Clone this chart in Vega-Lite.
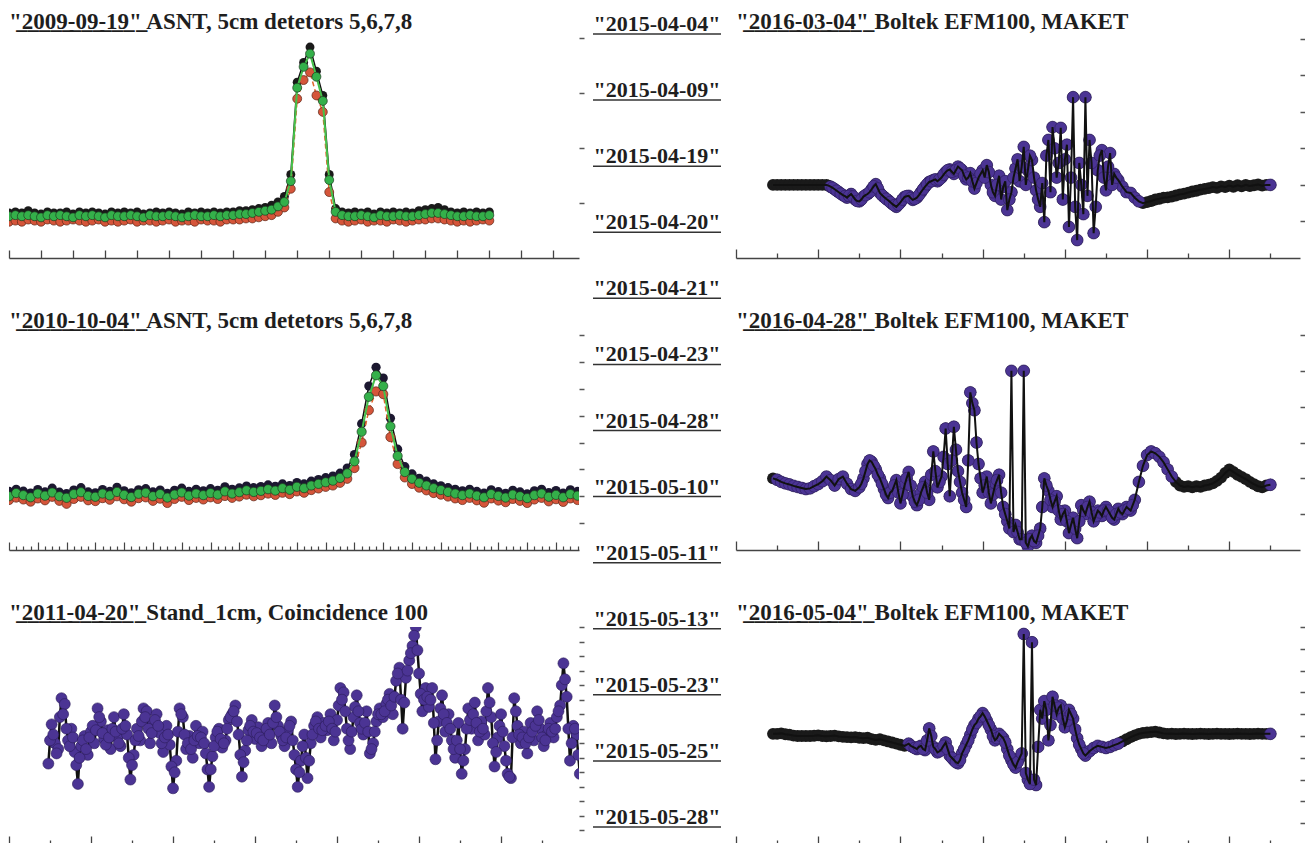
{
"$schema":"https://vega.github.io/schema/vega-lite/v6.json",
"background":"white",
"padding":{"left":8,"top":11,"right":0,"bottom":0},
"spacing":5,
"config":{"view":{"stroke":null},
"title":{"font":"Liberation Serif","fontSize":23,"fontWeight":"bold","color":"#1e1e1e","anchor":"start","offset":1,"frame":"group"},
"axis":{"labels":false,"title":null,"grid":false}},
"datasets":{
"L1":[
{"x":0,"k":4.1,"r":3.3,"g":3.8},{"x":0.2,"k":4.2,"r":3.4,"g":3.9},{"x":0.4,"k":4.1,"r":3.3,"g":3.8},{"x":0.6,"k":4.3,"r":3.5,"g":3.9},{"x":0.8,"k":4.1,"r":3.4,"g":3.8},{"x":1,"k":4.0,"r":3.3,"g":3.7},{"x":1.2,"k":4.2,"r":3.5,"g":3.9},{"x":1.4,"k":4.1,"r":3.4,"g":3.8},{"x":1.6,"k":4.1,"r":3.3,"g":3.9},{"x":1.8,"k":4.2,"r":3.4,"g":3.8},
{"x":2,"k":4.0,"r":3.5,"g":3.7},{"x":2.2,"k":4.2,"r":3.4,"g":3.9},{"x":2.4,"k":4.1,"r":3.3,"g":3.8},{"x":2.6,"k":4.2,"r":3.4,"g":3.9},{"x":2.8,"k":4.1,"r":3.5,"g":3.8},{"x":3,"k":4.0,"r":3.3,"g":3.7},{"x":3.2,"k":4.2,"r":3.4,"g":3.9},{"x":3.4,"k":4.1,"r":3.3,"g":3.8},{"x":3.6,"k":4.2,"r":3.4,"g":3.8},{"x":3.8,"k":4.1,"r":3.5,"g":3.9},
{"x":4,"k":4.2,"r":3.3,"g":3.8},{"x":4.2,"k":4.0,"r":3.4,"g":3.7},{"x":4.4,"k":4.1,"r":3.4,"g":3.9},{"x":4.6,"k":4.2,"r":3.3,"g":3.8},{"x":4.8,"k":4.1,"r":3.4,"g":3.8},{"x":5,"k":4.2,"r":3.5,"g":3.9},{"x":5.2,"k":4.1,"r":3.3,"g":3.8},{"x":5.4,"k":4.0,"r":3.4,"g":3.7},{"x":5.6,"k":4.2,"r":3.4,"g":3.8},{"x":5.8,"k":4.1,"r":3.3,"g":3.9},
{"x":6,"k":4.2,"r":3.5,"g":3.8},{"x":6.2,"k":4.1,"r":3.4,"g":3.8},{"x":6.4,"k":4.2,"r":3.4,"g":3.9},{"x":6.6,"k":4.1,"r":3.3,"g":3.8},{"x":6.8,"k":4.2,"r":3.5,"g":3.9},{"x":7,"k":4.2,"r":3.5,"g":3.9},{"x":7.2,"k":4.3,"r":3.5,"g":4.0},{"x":7.4,"k":4.3,"r":3.6,"g":4.0},{"x":7.6,"k":4.4,"r":3.6,"g":4.1},{"x":7.8,"k":4.5,"r":3.7,"g":4.2},
{"x":8,"k":4.6,"r":3.8,"g":4.3},{"x":8.2,"k":4.8,"r":3.9,"g":4.4},{"x":8.4,"k":5.1,"r":4.2,"g":4.7},{"x":8.6,"k":5.6,"r":4.6,"g":5.1},{"x":8.8,"k":7.6,"r":6.3,"g":7.0},{"x":9,"k":16.0,"r":14.5,"g":15.5},{"x":9.2,"k":17.8,"r":16.2,"g":17.4},{"x":9.4,"k":19.2,"r":16.9,"g":18.6},{"x":9.6,"k":17.0,"r":14.8,"g":16.5},{"x":9.8,"k":14.8,"r":13.3,"g":14.3},
{"x":10,"k":7.6,"r":6.0,"g":7.1},{"x":10.2,"k":4.5,"r":3.6,"g":4.2},{"x":10.4,"k":4.2,"r":3.4,"g":3.9},{"x":10.6,"k":4.1,"r":3.3,"g":3.8},{"x":10.8,"k":4.2,"r":3.4,"g":3.8},{"x":11,"k":4.1,"r":3.5,"g":3.9},{"x":11.2,"k":4.2,"r":3.3,"g":3.8},{"x":11.4,"k":4.0,"r":3.4,"g":3.7},{"x":11.6,"k":4.2,"r":3.4,"g":3.9},{"x":11.8,"k":4.1,"r":3.3,"g":3.8},
{"x":12,"k":4.2,"r":3.5,"g":3.8},{"x":12.2,"k":4.1,"r":3.4,"g":3.9},{"x":12.4,"k":4.2,"r":3.3,"g":3.8},{"x":12.6,"k":4.1,"r":3.4,"g":3.8},{"x":12.8,"k":4.3,"r":3.5,"g":3.9},{"x":13,"k":4.4,"r":3.5,"g":4.0},{"x":13.2,"k":4.5,"r":3.6,"g":4.1},{"x":13.4,"k":4.6,"r":3.6,"g":4.1},{"x":13.6,"k":4.4,"r":3.5,"g":4.0},{"x":13.8,"k":4.2,"r":3.4,"g":3.9},
{"x":14,"k":4.1,"r":3.3,"g":3.8},{"x":14.2,"k":4.2,"r":3.4,"g":3.8},{"x":14.4,"k":4.1,"r":3.3,"g":3.9},{"x":14.6,"k":4.2,"r":3.4,"g":3.8},{"x":14.8,"k":4.1,"r":3.5,"g":3.8},{"x":15,"k":4.2,"r":3.4,"g":3.9}
],
"L2":[
{"x":0,"k":21.8,"r":18.6,"g":20.0},{"x":0.25,"k":22.6,"r":19.5,"g":21.2},{"x":0.5,"k":21.9,"r":18.8,"g":20.4},{"x":0.75,"k":21.2,"r":18.0,"g":19.6},{"x":1,"k":22.5,"r":19.2,"g":21.0},{"x":1.25,"k":21.6,"r":18.5,"g":20.2},{"x":1.5,"k":23.0,"r":19.8,"g":21.4},{"x":1.75,"k":21.5,"r":18.3,"g":20.0},
{"x":2,"k":21.0,"r":17.2,"g":19.4},{"x":2.25,"k":22.3,"r":19.0,"g":20.8},{"x":2.5,"k":23.2,"r":19.8,"g":21.5},{"x":2.75,"k":21.6,"r":18.5,"g":20.1},{"x":3,"k":21.3,"r":18.2,"g":19.8},{"x":3.25,"k":22.5,"r":19.3,"g":21.0},{"x":3.5,"k":21.8,"r":18.7,"g":20.3},{"x":3.75,"k":23.3,"r":20.0,"g":21.6},
{"x":4,"k":22.0,"r":18.9,"g":20.5},{"x":4.25,"k":21.3,"r":18.0,"g":19.7},{"x":4.5,"k":22.4,"r":19.3,"g":20.9},{"x":4.75,"k":22.8,"r":19.6,"g":21.3},{"x":5,"k":21.6,"r":18.3,"g":20.0},{"x":5.25,"k":22.3,"r":19.1,"g":20.8},{"x":5.5,"k":21.1,"r":17.5,"g":19.5},{"x":5.75,"k":22.2,"r":19.0,"g":20.6},
{"x":6,"k":23.0,"r":19.8,"g":21.4},{"x":6.25,"k":21.8,"r":18.6,"g":20.2},{"x":6.5,"k":22.6,"r":19.4,"g":21.0},{"x":6.75,"k":22.0,"r":18.8,"g":20.4},{"x":7,"k":22.8,"r":19.6,"g":21.2},{"x":7.25,"k":22.2,"r":19.0,"g":20.6},{"x":7.5,"k":23.5,"r":20.1,"g":21.8},{"x":7.75,"k":22.6,"r":19.4,"g":21.0},
{"x":8,"k":23.1,"r":19.9,"g":21.5},{"x":8.25,"k":23.8,"r":20.6,"g":22.2},{"x":8.5,"k":23.2,"r":20.0,"g":21.6},{"x":8.75,"k":23.6,"r":20.4,"g":22.0},{"x":9,"k":24.2,"r":21.0,"g":22.6},{"x":9.25,"k":23.7,"r":20.5,"g":22.1},{"x":9.5,"k":24.6,"r":21.3,"g":23.0},{"x":9.75,"k":24.0,"r":20.8,"g":22.4},
{"x":10,"k":25.1,"r":21.8,"g":23.5},{"x":10.25,"k":24.6,"r":21.3,"g":23.0},{"x":10.5,"k":25.6,"r":22.3,"g":24.0},{"x":10.75,"k":26.2,"r":22.9,"g":24.6},{"x":11,"k":26.9,"r":23.5,"g":25.2},{"x":11.25,"k":27.5,"r":24.0,"g":25.8},{"x":11.5,"k":28.6,"r":25.0,"g":26.8},{"x":11.75,"k":30.5,"r":26.5,"g":28.5},
{"x":12,"k":35.5,"r":30.5,"g":33.0},{"x":12.25,"k":47.0,"r":40.0,"g":44.0},{"x":12.5,"k":61.0,"r":52.0,"g":57.0},{"x":12.75,"k":68.0,"r":59.0,"g":65.0},{"x":13,"k":64.0,"r":58.0,"g":61.0},{"x":13.25,"k":49.0,"r":42.0,"g":46.0},{"x":13.5,"k":37.5,"r":32.0,"g":35.0},{"x":13.75,"k":31.0,"r":27.0,"g":29.0},
{"x":14,"k":28.3,"r":24.6,"g":26.5},{"x":14.25,"k":26.7,"r":23.2,"g":25.0},{"x":14.5,"k":25.6,"r":22.2,"g":24.0},{"x":14.75,"k":24.6,"r":21.2,"g":23.0},{"x":15,"k":23.9,"r":20.6,"g":22.3},{"x":15.25,"k":23.2,"r":19.9,"g":21.6},{"x":15.5,"k":22.6,"r":19.2,"g":21.0},{"x":15.75,"k":22.0,"r":18.6,"g":20.4},
{"x":16,"k":22.6,"r":19.4,"g":21.0},{"x":16.25,"k":21.8,"r":18.5,"g":20.2},{"x":16.5,"k":21.2,"r":17.6,"g":19.6},{"x":16.75,"k":22.4,"r":19.2,"g":20.8},{"x":17,"k":21.7,"r":18.4,"g":20.1},{"x":17.25,"k":21.1,"r":17.8,"g":19.5},{"x":17.5,"k":22.2,"r":19.0,"g":20.6},{"x":17.75,"k":21.6,"r":18.3,"g":20.0},
{"x":18,"k":20.9,"r":17.5,"g":19.3},{"x":18.25,"k":22.0,"r":18.8,"g":20.4},{"x":18.5,"k":22.6,"r":19.4,"g":21.0},{"x":18.75,"k":21.4,"r":18.1,"g":19.8},{"x":19,"k":22.1,"r":18.9,"g":20.5},{"x":19.25,"k":21.2,"r":17.9,"g":19.6},{"x":19.5,"k":22.4,"r":19.2,"g":20.8},{"x":19.75,"k":21.8,"r":18.6,"g":20.2}
],
"L3":[
{"x":0.96,"y":56},{"x":1.04,"y":83},{"x":1.12,"y":70},{"x":1.2,"y":66},{"x":1.28,"y":101},{"x":1.36,"y":97},{"x":1.44,"y":72},{"x":1.52,"y":80},{"x":1.6,"y":64},{"x":1.68,"y":42},
{"x":1.76,"y":68},{"x":1.84,"y":75},{"x":1.92,"y":62},{"x":2,"y":78},{"x":2.08,"y":70},{"x":2.16,"y":94},{"x":2.24,"y":85},{"x":2.32,"y":73},{"x":2.4,"y":79},{"x":2.48,"y":66},
{"x":2.56,"y":88},{"x":2.64,"y":74},{"x":2.72,"y":68},{"x":2.8,"y":90},{"x":2.88,"y":76},{"x":2.96,"y":45},{"x":3.04,"y":62},{"x":3.12,"y":80},{"x":3.2,"y":72},{"x":3.28,"y":94},
{"x":3.36,"y":92},{"x":3.44,"y":70},{"x":3.52,"y":84},{"x":3.6,"y":90},{"x":3.68,"y":77},{"x":3.76,"y":64},{"x":3.84,"y":82},{"x":3.92,"y":69},{"x":4,"y":39},{"x":4.08,"y":58},
{"x":4.16,"y":94},{"x":4.24,"y":88},{"x":4.32,"y":66},{"x":4.4,"y":75},{"x":4.48,"y":60},{"x":4.56,"y":82},{"x":4.64,"y":70},{"x":4.72,"y":78},{"x":4.8,"y":63},{"x":4.88,"y":40},
{"x":4.96,"y":61},{"x":5.04,"y":74},{"x":5.12,"y":80},{"x":5.2,"y":67},{"x":5.28,"y":72},{"x":5.36,"y":86},{"x":5.44,"y":90},{"x":5.52,"y":96},{"x":5.6,"y":76},{"x":5.68,"y":47},
{"x":5.76,"y":65},{"x":5.84,"y":79},{"x":5.92,"y":86},{"x":6,"y":73},{"x":6.08,"y":81},{"x":6.16,"y":68},{"x":6.24,"y":77},{"x":6.32,"y":84},{"x":6.4,"y":70},{"x":6.48,"y":96},
{"x":6.56,"y":82},{"x":6.64,"y":75},{"x":6.72,"y":68},{"x":6.8,"y":79},{"x":6.88,"y":85},{"x":6.96,"y":62},{"x":7.04,"y":40},{"x":7.12,"y":58},{"x":7.2,"y":76},{"x":7.28,"y":46},
{"x":7.36,"y":70},{"x":7.44,"y":82},{"x":7.52,"y":88},{"x":7.6,"y":74},{"x":7.68,"y":84},{"x":7.76,"y":79},{"x":7.84,"y":90},{"x":7.92,"y":72},{"x":8,"y":86},{"x":8.08,"y":108},
{"x":8.16,"y":105},{"x":8.24,"y":80},{"x":8.32,"y":66},{"x":8.4,"y":88},{"x":8.48,"y":103},{"x":8.56,"y":84},{"x":8.64,"y":76},{"x":8.72,"y":92},{"x":8.8,"y":63},{"x":8.88,"y":70},
{"x":8.96,"y":85},{"x":9.04,"y":94},{"x":9.12,"y":88},{"x":9.2,"y":97},{"x":9.28,"y":104},{"x":9.36,"y":90},{"x":9.44,"y":113},{"x":9.52,"y":122},{"x":9.6,"y":80},{"x":9.68,"y":115},
{"x":9.76,"y":127},{"x":9.84,"y":137},{"x":9.92,"y":150},{"x":10,"y":118},{"x":10.08,"y":92},{"x":10.16,"y":108},{"x":10.24,"y":95},{"x":10.32,"y":108},{"x":10.4,"y":59},{"x":10.48,"y":85},
{"x":10.56,"y":103},{"x":10.64,"y":78},{"x":10.72,"y":90},{"x":10.8,"y":72},{"x":10.88,"y":60},{"x":10.96,"y":84},{"x":11.04,"y":49},{"x":11.12,"y":66},{"x":11.2,"y":94},{"x":11.28,"y":80},
{"x":11.36,"y":98},{"x":11.44,"y":72},{"x":11.52,"y":85},{"x":11.6,"y":76},{"x":11.68,"y":108},{"x":11.76,"y":88},{"x":11.84,"y":54},{"x":11.92,"y":74},{"x":12,"y":90},{"x":12.08,"y":68},
{"x":12.16,"y":49},{"x":12.24,"y":46},{"x":12.32,"y":101},{"x":12.4,"y":82},{"x":12.48,"y":70},{"x":12.56,"y":78},{"x":12.64,"y":63},{"x":12.72,"y":84},{"x":12.8,"y":72},{"x":12.88,"y":92},
{"x":12.96,"y":80},{"x":13.04,"y":68},{"x":13.12,"y":76},{"x":13.2,"y":84},{"x":13.28,"y":74},{"x":13.36,"y":88},{"x":13.44,"y":96},{"x":13.52,"y":125},{"x":13.6,"y":102},{"x":13.68,"y":58},
{"x":13.76,"y":82},{"x":13.84,"y":76},{"x":13.92,"y":49},
{"x":1.0,"y":72},{"x":1.08,"y":76},{"x":1.16,"y":63},{"x":1.24,"y":88},{"x":1.32,"y":90},{"x":1.4,"y":80},{"x":1.48,"y":68},{"x":1.56,"y":74},{"x":1.64,"y":55},{"x":1.72,"y":60},
{"x":1.8,"y":72},{"x":1.88,"y":66},{"x":1.96,"y":74},{"x":2.04,"y":82},{"x":2.12,"y":79},{"x":2.2,"y":88},{"x":2.28,"y":77},{"x":2.36,"y":69},{"x":2.44,"y":74},{"x":2.52,"y":80},
{"x":2.6,"y":78},{"x":2.68,"y":70},{"x":2.76,"y":80},{"x":2.84,"y":82},{"x":2.92,"y":60},{"x":3.0,"y":55},{"x":3.08,"y":72},{"x":3.16,"y":75},{"x":3.24,"y":85},{"x":3.32,"y":88},
{"x":3.4,"y":80},{"x":3.48,"y":77},{"x":3.56,"y":86},{"x":3.64,"y":82},{"x":3.72,"y":70},{"x":3.8,"y":74},{"x":3.88,"y":76},{"x":3.96,"y":54},{"x":4.04,"y":50},{"x":4.12,"y":78},
{"x":4.2,"y":90},{"x":4.28,"y":76},{"x":4.36,"y":70},{"x":4.44,"y":66},{"x":4.52,"y":72},{"x":4.6,"y":75},{"x":4.68,"y":74},{"x":4.76,"y":70},{"x":4.84,"y":52},{"x":4.92,"y":52},
{"x":5.0,"y":68},{"x":5.08,"y":78},{"x":5.16,"y":73},{"x":5.24,"y":70},{"x":5.32,"y":80},{"x":5.4,"y":88},{"x":5.48,"y":92},{"x":5.56,"y":85},{"x":5.64,"y":62},{"x":5.72,"y":57},
{"x":5.8,"y":72},{"x":5.88,"y":82},{"x":5.96,"y":78},{"x":6.04,"y":77},{"x":6.12,"y":74},{"x":6.2,"y":72},{"x":6.28,"y":80},{"x":6.36,"y":76},{"x":6.44,"y":84},{"x":6.52,"y":88},
{"x":6.6,"y":78},{"x":6.68,"y":72},{"x":6.76,"y":74},{"x":6.84,"y":82},{"x":6.92,"y":72},{"x":7.0,"y":52},{"x":7.08,"y":50},{"x":7.16,"y":68},{"x":7.24,"y":60},{"x":7.32,"y":58},
{"x":7.4,"y":76},{"x":7.48,"y":85},{"x":7.56,"y":80},{"x":7.64,"y":79},{"x":7.72,"y":82},{"x":7.8,"y":85},{"x":7.88,"y":80},{"x":7.96,"y":78},{"x":8.04,"y":96},{"x":8.12,"y":100},
{"x":8.2,"y":92},{"x":8.28,"y":72},{"x":8.36,"y":78},{"x":8.44,"y":95},{"x":8.52,"y":92},{"x":8.6,"y":80},{"x":8.68,"y":84},{"x":8.76,"y":78},{"x":8.84,"y":66},{"x":8.92,"y":78},
{"x":9.0,"y":90},{"x":9.08,"y":90},{"x":9.16,"y":92},{"x":9.24,"y":100},{"x":9.32,"y":96},{"x":9.4,"y":102},{"x":9.48,"y":118},{"x":9.56,"y":100},{"x":9.64,"y":98},{"x":9.72,"y":120},
{"x":9.8,"y":132},{"x":9.88,"y":144},{"x":9.96,"y":134},{"x":10.04,"y":104},{"x":10.12,"y":100},{"x":10.2,"y":102},{"x":10.28,"y":100},{"x":10.36,"y":84},{"x":10.44,"y":72},{"x":10.52,"y":94},
{"x":10.6,"y":90},{"x":10.68,"y":84},{"x":10.76,"y":80},{"x":10.84,"y":66},{"x":10.92,"y":72},{"x":11.0,"y":66},{"x":11.08,"y":58},{"x":11.16,"y":80},{"x":11.24,"y":86},{"x":11.32,"y":90},
{"x":11.4,"y":84},{"x":11.48,"y":78},{"x":11.56,"y":80},{"x":11.64,"y":92},{"x":11.72,"y":98},{"x":11.8,"y":70},{"x":11.88,"y":64},{"x":11.96,"y":82},{"x":12.04,"y":78},{"x":12.12,"y":58},
{"x":12.2,"y":47},{"x":12.28,"y":74},{"x":12.36,"y":92},{"x":12.44,"y":76},{"x":12.52,"y":74},{"x":12.6,"y":70},{"x":12.68,"y":74},{"x":12.76,"y":78},{"x":12.84,"y":82},{"x":12.92,"y":86},
{"x":13.0,"y":74},{"x":13.08,"y":72},{"x":13.16,"y":80},{"x":13.24,"y":78},{"x":13.32,"y":80},{"x":13.4,"y":92},{"x":13.48,"y":110},{"x":13.56,"y":114},{"x":13.64,"y":80},{"x":13.72,"y":70},
{"x":13.8,"y":80},{"x":13.88,"y":62}
],
"R1":[
{"x":0.9,"y":20},{"x":1,"y":20},{"x":1.1,"y":20},{"x":1.2,"y":20},{"x":1.3,"y":20},{"x":1.4,"y":20},{"x":1.5,"y":20},{"x":1.6,"y":20},{"x":1.7,"y":20},{"x":1.8,"y":20},
{"x":1.9,"y":20},{"x":2,"y":20},{"x":2.1,"y":20},{"x":2.2,"y":20},{"x":2.3,"y":19.5},{"x":2.4,"y":18.8},{"x":2.5,"y":18},{"x":2.6,"y":17.2},{"x":2.7,"y":16.5},{"x":2.8,"y":17.5},
{"x":2.9,"y":16},{"x":3,"y":15.5},{"x":3.1,"y":16.8},{"x":3.2,"y":17.5},{"x":3.3,"y":18.8},{"x":3.4,"y":20.2},{"x":3.5,"y":17.8},{"x":3.6,"y":16.7},{"x":3.7,"y":15.8},{"x":3.8,"y":14.8},
{"x":3.9,"y":14},{"x":4,"y":15.2},{"x":4.1,"y":16.7},{"x":4.2,"y":17},{"x":4.3,"y":15.9},{"x":4.4,"y":16.5},{"x":4.5,"y":18},{"x":4.6,"y":19.5},{"x":4.7,"y":20.8},{"x":4.8,"y":21.3},
{"x":4.9,"y":21},{"x":5,"y":22},{"x":5.1,"y":23.5},{"x":5.2,"y":24.2},{"x":5.3,"y":23},{"x":5.4,"y":25},{"x":5.5,"y":24},{"x":5.6,"y":21.5},{"x":5.7,"y":23.2},{"x":5.8,"y":19},
{"x":5.9,"y":22},{"x":6,"y":24},{"x":6.1,"y":25.4},{"x":6.2,"y":20},{"x":6.3,"y":17},{"x":6.4,"y":22.5},{"x":6.5,"y":19.4},{"x":6.6,"y":13.1},{"x":6.7,"y":18},{"x":6.8,"y":24.5},
{"x":6.9,"y":21},{"x":7,"y":30.4},{"x":7.1,"y":24},{"x":7.2,"y":26.8},{"x":7.3,"y":18.5},{"x":7.4,"y":14},{"x":7.5,"y":9.8},{"x":7.6,"y":32.3},{"x":7.7,"y":35.8},{"x":7.8,"y":22},
{"x":7.9,"y":35.6},{"x":8,"y":27},{"x":8.1,"y":8.5},{"x":8.2,"y":44},{"x":8.3,"y":4.9},{"x":8.4,"y":20},{"x":8.5,"y":44},{"x":8.6,"y":32.3},{"x":8.7,"y":6.8},{"x":8.8,"y":24},
{"x":8.9,"y":29.5},{"x":9,"y":18.5},{"x":9.1,"y":28.7},{"x":9.2,"y":23},{"x":9.3,"y":21.3},{"x":9.4,"y":19.5},{"x":9.5,"y":18},{"x":9.6,"y":17.8},{"x":9.7,"y":16.5},{"x":9.8,"y":15.5},
{"x":9.9,"y":15},{"x":10,"y":15.3},{"x":10.1,"y":15.6},{"x":10.2,"y":16},{"x":10.3,"y":16.2},{"x":10.4,"y":16.5},{"x":10.5,"y":16.6},{"x":10.6,"y":16.8},{"x":10.7,"y":17.1},{"x":10.8,"y":17.4},
{"x":10.9,"y":17.6},{"x":11,"y":17.9},{"x":11.1,"y":18.2},{"x":11.2,"y":18.4},{"x":11.3,"y":18.7},{"x":11.4,"y":18.9},{"x":11.5,"y":19.1},{"x":11.6,"y":19.4},{"x":11.7,"y":19.2},{"x":11.8,"y":19.6},
{"x":11.9,"y":19.4},{"x":12,"y":19.8},{"x":12.1,"y":19.5},{"x":12.2,"y":19.9},{"x":12.3,"y":19.6},{"x":12.4,"y":20},{"x":12.5,"y":19.7},{"x":12.6,"y":19.9},{"x":12.7,"y":20.1},{"x":12.8,"y":19.8},
{"x":12.9,"y":20},{"x":13,"y":20},
{"x":2.25,"y":19.8},{"x":2.35,"y":19.2},{"x":2.45,"y":18.4},{"x":2.55,"y":17.6},{"x":2.65,"y":16.9},{"x":2.75,"y":17},{"x":2.85,"y":16.8},{"x":2.95,"y":15.6},{"x":3.05,"y":16},{"x":3.15,"y":17.2},
{"x":3.25,"y":18},{"x":3.35,"y":19.6},{"x":3.45,"y":19},{"x":3.55,"y":17.2},{"x":3.65,"y":16.2},{"x":3.75,"y":15.3},{"x":3.85,"y":14.4},{"x":3.95,"y":14.6},{"x":4.05,"y":16},{"x":4.15,"y":16.9},
{"x":4.25,"y":16.4},{"x":4.35,"y":16.2},{"x":4.45,"y":17.2},{"x":4.55,"y":18.8},{"x":4.65,"y":20.2},{"x":4.75,"y":21},{"x":4.85,"y":21.5},{"x":4.95,"y":21.5},{"x":5.05,"y":22.8},{"x":5.15,"y":24},
{"x":5.25,"y":23.6},{"x":5.35,"y":24},{"x":5.45,"y":24.5},{"x":5.55,"y":22.5},{"x":5.65,"y":22},{"x":5.75,"y":21},{"x":5.85,"y":20.5},{"x":5.95,"y":23},{"x":6.05,"y":22},{"x":6.15,"y":23.5},
{"x":6.25,"y":18},{"x":6.35,"y":20},{"x":6.45,"y":16},{"x":6.55,"y":21},{"x":6.65,"y":16},{"x":6.75,"y":22},{"x":6.85,"y":27},{"x":6.95,"y":25},{"x":7.05,"y":20},{"x":7.15,"y":28},
{"x":7.25,"y":22},{"x":7.35,"y":16},{"x":7.45,"y":20.5},{"x":7.55,"y":28},{"x":7.65,"y":18},{"x":7.75,"y":30},{"x":7.85,"y":26},{"x":7.95,"y":16},{"x":8.05,"y":31},{"x":8.15,"y":22},
{"x":8.25,"y":14},{"x":8.35,"y":26},{"x":8.45,"y":12},{"x":8.55,"y":17},{"x":8.65,"y":26},{"x":8.75,"y":14},{"x":8.85,"y":28},{"x":8.95,"y":22},{"x":9.05,"y":25},{"x":9.15,"y":20},
{"x":9.25,"y":22}
],
"R2":[
{"x":0.9,"y":20},{"x":1,"y":19.6},{"x":1.1,"y":19},{"x":1.2,"y":18.6},{"x":1.3,"y":18.3},{"x":1.4,"y":17.9},{"x":1.5,"y":17.6},{"x":1.6,"y":17.3},{"x":1.7,"y":17},{"x":1.8,"y":17.2},
{"x":1.9,"y":17.8},{"x":2,"y":18.4},{"x":2.1,"y":19.2},{"x":2.2,"y":20.5},{"x":2.3,"y":19.5},{"x":2.4,"y":18},{"x":2.5,"y":19.8},{"x":2.6,"y":20.5},{"x":2.7,"y":18.5},{"x":2.8,"y":17},
{"x":2.9,"y":16.5},{"x":3,"y":17.5},{"x":3.1,"y":20},{"x":3.2,"y":24},{"x":3.3,"y":24.6},{"x":3.4,"y":22.5},{"x":3.5,"y":20},{"x":3.6,"y":17},{"x":3.7,"y":14.5},{"x":3.8,"y":16.5},
{"x":3.9,"y":19.5},{"x":4,"y":13},{"x":4.1,"y":18},{"x":4.2,"y":21.8},{"x":4.3,"y":15},{"x":4.4,"y":12.5},{"x":4.5,"y":16},{"x":4.6,"y":19},{"x":4.7,"y":14},{"x":4.8,"y":27.5},
{"x":4.9,"y":17.5},{"x":5,"y":20.5},{"x":5.1,"y":33.9},{"x":5.2,"y":15},{"x":5.3,"y":34.4},{"x":5.4,"y":22},{"x":5.5,"y":16},{"x":5.6,"y":12},{"x":5.7,"y":44},{"x":5.8,"y":39},
{"x":5.9,"y":24},{"x":6,"y":16},{"x":6.1,"y":20.5},{"x":6.2,"y":13},{"x":6.3,"y":18},{"x":6.4,"y":21},{"x":6.5,"y":12},{"x":6.6,"y":8},{"x":6.7,"y":50},{"x":6.8,"y":7},
{"x":6.9,"y":3},{"x":7,"y":50},{"x":7.1,"y":1},{"x":7.2,"y":4},{"x":7.3,"y":2},{"x":7.4,"y":6},{"x":7.5,"y":20},{"x":7.6,"y":16.5},{"x":7.7,"y":12},{"x":7.8,"y":15},
{"x":7.9,"y":8.5},{"x":8,"y":11},{"x":8.1,"y":4.7},{"x":8.2,"y":9},{"x":8.3,"y":3.3},{"x":8.4,"y":12.5},{"x":8.5,"y":10},{"x":8.6,"y":13.5},{"x":8.7,"y":8},{"x":8.8,"y":11},
{"x":8.9,"y":9.5},{"x":9,"y":12},{"x":9.1,"y":10},{"x":9.2,"y":8.5},{"x":9.3,"y":11.5},{"x":9.4,"y":10},{"x":9.5,"y":12},{"x":9.6,"y":11},{"x":9.7,"y":14},{"x":9.8,"y":19},
{"x":9.9,"y":23.5},{"x":10,"y":26.5},{"x":10.1,"y":27.5},{"x":10.2,"y":27},{"x":10.3,"y":26},{"x":10.4,"y":24.5},{"x":10.5,"y":22.5},{"x":10.6,"y":20.5},{"x":10.7,"y":19},{"x":10.8,"y":18},
{"x":10.9,"y":17.6},{"x":11,"y":17.8},{"x":11.1,"y":17.5},{"x":11.2,"y":17.8},{"x":11.3,"y":17.6},{"x":11.4,"y":18},{"x":11.5,"y":18.2},{"x":11.6,"y":18.6},{"x":11.7,"y":19.3},{"x":11.8,"y":20.2},
{"x":11.9,"y":21.5},{"x":12,"y":22.5},{"x":12.1,"y":21.8},{"x":12.2,"y":21},{"x":12.3,"y":20.4},{"x":12.4,"y":19.8},{"x":12.5,"y":19},{"x":12.6,"y":18.4},{"x":12.7,"y":17.8},{"x":12.8,"y":17.5},
{"x":12.9,"y":18},{"x":13,"y":18.2},
{"x":3.05,"y":18.5},{"x":3.15,"y":22},{"x":3.25,"y":25},{"x":3.35,"y":23.5},{"x":3.45,"y":21},{"x":3.55,"y":18.5},{"x":3.65,"y":15.5},{"x":3.75,"y":16},{"x":3.85,"y":18},{"x":3.95,"y":16},
{"x":4.05,"y":15.5},{"x":4.15,"y":20},{"x":4.25,"y":18},{"x":4.35,"y":13.5},{"x":4.45,"y":14},{"x":4.55,"y":17.5},{"x":4.65,"y":16},{"x":4.75,"y":21},{"x":4.85,"y":22},{"x":4.95,"y":19},
{"x":5.05,"y":26},{"x":5.15,"y":24},{"x":5.25,"y":25},{"x":5.35,"y":28},{"x":5.45,"y":19},{"x":5.55,"y":14},{"x":5.65,"y":25},{"x":5.75,"y":41},{"x":5.85,"y":30},{"x":5.95,"y":20},
{"x":6.05,"y":18},{"x":6.15,"y":16},{"x":6.25,"y":15.5},{"x":6.35,"y":19.5},{"x":6.45,"y":16},{"x":6.55,"y":10},{"x":6.65,"y":6},{"x":6.75,"y":5},{"x":6.85,"y":5},{"x":6.95,"y":3},
{"x":7.05,"y":2},{"x":7.15,"y":3},{"x":7.25,"y":2.5},{"x":7.35,"y":4},{"x":7.45,"y":12},{"x":7.55,"y":18},{"x":7.65,"y":14},{"x":7.75,"y":13.5},{"x":7.85,"y":11},{"x":7.95,"y":10},
{"x":8.05,"y":8},{"x":8.15,"y":7},{"x":8.25,"y":6},{"x":8.35,"y":8},{"x":8.45,"y":11},{"x":8.55,"y":12},{"x":8.65,"y":10.5},{"x":8.75,"y":9.5},{"x":8.85,"y":10.5},{"x":8.95,"y":11},
{"x":9.05,"y":11},{"x":9.15,"y":9},{"x":9.25,"y":10},{"x":9.35,"y":10.5},{"x":9.45,"y":11},{"x":9.55,"y":11.5},{"x":9.65,"y":12.5}
],
"R3":[
{"x":0.9,"y":51},{"x":1,"y":51},{"x":1.1,"y":51.2},{"x":1.2,"y":50.8},{"x":1.3,"y":50.6},{"x":1.4,"y":50.2},{"x":1.5,"y":50},{"x":1.6,"y":50},{"x":1.7,"y":50},{"x":1.8,"y":50},
{"x":1.9,"y":50.1},{"x":2,"y":50.3},{"x":2.1,"y":50},{"x":2.2,"y":49.9},{"x":2.3,"y":50},{"x":2.4,"y":50.2},{"x":2.5,"y":49.8},{"x":2.6,"y":49.6},{"x":2.7,"y":49.5},{"x":2.8,"y":49.4},
{"x":2.9,"y":49.5},{"x":3,"y":49.2},{"x":3.1,"y":49},{"x":3.2,"y":49.2},{"x":3.3,"y":48.6},{"x":3.4,"y":48.2},{"x":3.5,"y":48.5},{"x":3.6,"y":48},{"x":3.7,"y":47.5},{"x":3.8,"y":47},
{"x":3.9,"y":46.5},{"x":4,"y":46},{"x":4.1,"y":45.5},{"x":4.2,"y":46.5},{"x":4.3,"y":45},{"x":4.4,"y":44},{"x":4.5,"y":45.5},{"x":4.6,"y":43.5},{"x":4.7,"y":53.5},{"x":4.8,"y":45},
{"x":4.9,"y":42.5},{"x":5,"y":44},{"x":5.1,"y":47},{"x":5.2,"y":41},{"x":5.3,"y":39},{"x":5.4,"y":37.5},{"x":5.5,"y":42},{"x":5.6,"y":46},{"x":5.7,"y":50.5},{"x":5.8,"y":55},
{"x":5.9,"y":58},{"x":6,"y":60.5},{"x":6.1,"y":57},{"x":6.2,"y":53},{"x":6.3,"y":48},{"x":6.4,"y":51},{"x":6.5,"y":49},{"x":6.6,"y":44},{"x":6.7,"y":39},{"x":6.8,"y":35.5},
{"x":6.9,"y":40},{"x":7,"y":96.8},{"x":7.1,"y":30},{"x":7.2,"y":93},{"x":7.3,"y":27.5},{"x":7.4,"y":62},{"x":7.5,"y":66},{"x":7.6,"y":48},{"x":7.7,"y":68},{"x":7.8,"y":60},
{"x":7.9,"y":64},{"x":8,"y":54},{"x":8.1,"y":62},{"x":8.2,"y":58},{"x":8.3,"y":49},{"x":8.4,"y":44},{"x":8.5,"y":41},{"x":8.6,"y":43},{"x":8.7,"y":44.5},{"x":8.8,"y":45.5},
{"x":8.9,"y":45},{"x":9,"y":44.5},{"x":9.1,"y":45},{"x":9.2,"y":45.8},{"x":9.3,"y":46.5},{"x":9.4,"y":47.5},{"x":9.5,"y":48.5},{"x":9.6,"y":49.5},{"x":9.7,"y":50.3},{"x":9.8,"y":51},
{"x":9.9,"y":51.4},{"x":10,"y":51.6},{"x":10.1,"y":51.8},{"x":10.2,"y":52},{"x":10.3,"y":51.6},{"x":10.4,"y":51.2},{"x":10.5,"y":51},{"x":10.6,"y":51.1},{"x":10.7,"y":50.9},{"x":10.8,"y":51},
{"x":10.9,"y":51.1},{"x":11,"y":51},{"x":11.1,"y":50.9},{"x":11.2,"y":51},{"x":11.3,"y":51.1},{"x":11.4,"y":51},{"x":11.5,"y":50.9},{"x":11.6,"y":51},{"x":11.7,"y":51.1},{"x":11.8,"y":51},
{"x":11.9,"y":51},{"x":12,"y":50.9},{"x":12.1,"y":51},{"x":12.2,"y":51.1},{"x":12.3,"y":51},{"x":12.4,"y":51},{"x":12.5,"y":50.9},{"x":12.6,"y":51},{"x":12.7,"y":51.1},{"x":12.8,"y":51},
{"x":12.9,"y":51},{"x":13,"y":51},
{"x":4.25,"y":45.5},{"x":4.35,"y":44.5},{"x":4.45,"y":45},{"x":4.55,"y":44},{"x":4.65,"y":48},{"x":4.75,"y":50},{"x":4.85,"y":44},{"x":4.95,"y":43},{"x":5.05,"y":45.5},{"x":5.15,"y":44},
{"x":5.25,"y":40},{"x":5.35,"y":38},{"x":5.45,"y":39},{"x":5.55,"y":44},{"x":5.65,"y":48},{"x":5.75,"y":53},{"x":5.85,"y":56},{"x":5.95,"y":59},{"x":6.05,"y":59},{"x":6.15,"y":55},
{"x":6.25,"y":50},{"x":6.35,"y":49},{"x":6.45,"y":50},{"x":6.55,"y":47},{"x":6.65,"y":41},{"x":6.75,"y":37},{"x":6.85,"y":38},{"x":6.95,"y":42},{"x":7.05,"y":33},{"x":7.15,"y":28},
{"x":7.25,"y":30},{"x":7.35,"y":45},{"x":7.45,"y":58},{"x":7.55,"y":62},{"x":7.65,"y":55},{"x":7.75,"y":64},{"x":7.85,"y":63},{"x":7.95,"y":58},{"x":8.05,"y":57},{"x":8.15,"y":60},
{"x":8.25,"y":53},{"x":8.35,"y":46},{"x":8.45,"y":42}
],
"M":[
{"d":"\"2015-04-04\""},{"d":"\"2015-04-09\""},{"d":"\"2015-04-19\""},{"d":"\"2015-04-20\""},{"d":"\"2015-04-21\""},{"d":"\"2015-04-23\""},{"d":"\"2015-04-28\""},{"d":"\"2015-05-10\""},{"d":"\"2015-05-11\""},{"d":"\"2015-05-13\""},{"d":"\"2015-05-23\""},{"d":"\"2015-05-25\""},{"d":"\"2015-05-28\""}
]
},
"hconcat":[
{"spacing":51,"vconcat":[
{"title":{"text":"\"\u03322\u03320\u03320\u03329\u0332-\u03320\u03329\u0332-\u03321\u03329\u0332\"\u0332 ASNT, 5cm detetors 5,6,7,8","font":"Liberation Serif","fontSize":23,"fontWeight":"bold","color":"#1e1e1e","anchor":"start","frame":"group","offset":1},
"width":570,"height":223,"data":{"name":"L1"},
"transform":[{"fold":["k","r","g"],"as":["s","v"]}],
"encoding":{
"x":{"field":"x","type":"quantitative","scale":{"domain":[0,17.8],"nice":false,"zero":false},"axis":{"orient":"bottom","values":[0,1,2,3,4,5,6,7,8,9,10,11,12,13,14,15,16,17],"domainColor":"#444","domainWidth":1.5,"tickColor":"#444","tickWidth":1.3,"tickSize":-8}},
"y":{"field":"v","type":"quantitative","scale":{"domain":[0,20.3],"nice":false,"zero":false},"axis":{"orient":"right","values":[5,10,15,20],"domain":false,"tickColor":"#555","tickWidth":1.5,"tickSize":5}}},
"layer":[
{"transform":[{"filter":"datum.s==='k'"}],"mark":{"type":"line","color":"#111","strokeWidth":1.5,"clip":true}},
{"transform":[{"filter":"datum.s==='k'"}],"mark":{"type":"circle","size":80,"color":"#1a1a1a","opacity":1,"clip":true}},
{"transform":[{"filter":"datum.s==='r'"}],"mark":{"type":"line","color":"#e0662e","strokeWidth":1.5,"strokeDash":[5,3],"clip":true}},
{"transform":[{"filter":"datum.s==='r'"}],"mark":{"type":"circle","size":80,"color":"#d5553a","stroke":"#5a2515","strokeWidth":0.7,"opacity":1,"clip":true}},
{"transform":[{"filter":"datum.s==='g'"}],"mark":{"type":"line","color":"#45c04a","strokeWidth":2,"clip":true}},
{"transform":[{"filter":"datum.s==='g'"}],"mark":{"type":"circle","size":80,"color":"#34b04a","stroke":"#1c3b20","strokeWidth":0.7,"opacity":1,"clip":true}}
]},
{"title":{"text":"\"\u03322\u03320\u03321\u03320\u0332-\u03321\u03320\u0332-\u03320\u03324\u0332\"\u0332 ASNT, 5cm detetors 5,6,7,8","font":"Liberation Serif","fontSize":23,"fontWeight":"bold","color":"#1e1e1e","anchor":"start","frame":"group","offset":1},
"width":570,"height":215,"data":{"name":"L2"},
"transform":[{"fold":["k","r","g"],"as":["s","v"]}],
"encoding":{
"x":{"field":"x","type":"quantitative","scale":{"domain":[0,19.8],"nice":false,"zero":false},"axis":{"orient":"bottom","values":[0,0.25,0.5,0.75,1,1.25,1.5,1.75,2,2.25,2.5,2.75,3,3.25,3.5,3.75,4,4.25,4.5,4.75,5,5.25,5.5,5.75,6,6.25,6.5,6.75,7,7.25,7.5,7.75,8,8.25,8.5,8.75,9,9.25,9.5,9.75,10,10.25,10.5,10.75,11,11.25,11.5,11.75,12,12.25,12.5,12.75,13,13.25,13.5,13.75,14,14.25,14.5,14.75,15,15.25,15.5,15.75,16,16.25,16.5,16.75,17,17.25,17.5,17.75,18,18.25,18.5,18.75,19,19.25,19.5,19.75],"domainColor":"#444","domainWidth":1.5,"tickColor":"#444","tickWidth":1.2,"tickSize":{"condition":{"test":"datum.value % 1 === 0","value":-8},"value":-4}}},
"y":{"field":"v","type":"quantitative","scale":{"domain":[0,80],"nice":false,"zero":false},"axis":{"orient":"right","values":[10,20,30,40,50,60,70,80],"domain":false,"tickColor":"#555","tickWidth":1.5,"tickSize":5}}},
"layer":[
{"transform":[{"filter":"datum.s==='k'"}],"mark":{"type":"line","color":"#111","strokeWidth":1.5,"clip":true}},
{"transform":[{"filter":"datum.s==='k'"}],"mark":{"type":"circle","size":85,"color":"#1c1830","opacity":1,"clip":true}},
{"transform":[{"filter":"datum.s==='r'"}],"mark":{"type":"line","color":"#e0662e","strokeWidth":1.5,"strokeDash":[5,3],"clip":true}},
{"transform":[{"filter":"datum.s==='r'"}],"mark":{"type":"circle","size":85,"color":"#d5553a","stroke":"#5a2515","strokeWidth":0.7,"opacity":1,"clip":true}},
{"transform":[{"filter":"datum.s==='g'"}],"mark":{"type":"line","color":"#45c04a","strokeWidth":2,"clip":true}},
{"transform":[{"filter":"datum.s==='g'"}],"mark":{"type":"circle","size":85,"color":"#34b04a","stroke":"#1c3b20","strokeWidth":0.7,"opacity":1,"clip":true}}
]},
{"title":{"text":"\"\u03322\u03320\u03321\u03321\u0332-\u03320\u03324\u0332-\u03322\u03320\u0332\"\u0332 Stand_1cm, Coincidence 100","font":"Liberation Serif","fontSize":23,"fontWeight":"bold","color":"#1e1e1e","anchor":"start","frame":"group","offset":1},
"width":570,"height":218,"data":{"name":"L3"},
"encoding":{
"x":{"field":"x","type":"quantitative","scale":{"domain":[0,13.9],"nice":false,"zero":false},"axis":{"orient":"bottom","values":[0,1,2,3,4,5,6,7,8,9,10,11,12,13],"domainColor":"#444","domainWidth":1.5,"tickColor":"#444","tickWidth":1.3,"tickSize":{"condition":{"test":"datum.value % 2 === 0","value":-9},"value":-5}}},
"y":{"field":"y","type":"quantitative","scale":{"domain":[0,150],"nice":false,"zero":false},"axis":{"orient":"right","values":[10,20,30,40,50,60,70,80,90,100,110,120,130,140,150],"domain":false,"tickColor":"#555","tickWidth":1.5,"tickSize":5}}},
"layer":[
{"mark":{"type":"line","color":"#111","strokeWidth":2.5,"clip":true}},
{"mark":{"type":"circle","size":120,"color":"#4b3494","stroke":"#2b1d5a","strokeWidth":0.6,"opacity":1,"clip":true}}
]}
]},
{"width":140,"height":815,"data":{"name":"M"},
"encoding":{"y":{"field":"d","type":"ordinal","sort":null,"scale":{"type":"point","padding":0.1665},"axis":null}},
"layer":[
{"mark":{"type":"text","font":"Liberation Serif","fontSize":22,"fontWeight":"bold","baseline":"alphabetic","align":"center","dy":-15,"dx":-3,"color":"#1e1e1e"},"encoding":{"text":{"field":"d","type":"nominal"}}},
{"mark":{"type":"tick","orient":"horizontal","size":128,"thickness":1.5,"yOffset":-12,"xOffset":-3,"color":"#333","opacity":1}}
]},
{"spacing":51,"vconcat":[
{"title":{"text":"\"\u03322\u03320\u03321\u03326\u0332-\u03320\u03323\u0332-\u03320\u03324\u0332\"\u0332 Boltek EFM100, MAKET","font":"Liberation Serif","fontSize":23,"fontWeight":"bold","color":"#1e1e1e","anchor":"start","frame":"group","offset":1},
"width":564,"height":223,"data":{"name":"R1"},
"encoding":{
"x":{"field":"x","type":"quantitative","scale":{"domain":[0,13.72],"nice":false,"zero":false},"axis":{"orient":"bottom","values":[0,1,2,3,4,5,6,7,8,9,10,11,12,13],"domainColor":"#444","domainWidth":1.5,"tickColor":"#444","tickWidth":1.3,"tickSize":{"condition":{"test":"datum.value % 2 === 0","value":-9},"value":-5}}},
"y":{"field":"y","type":"quantitative","scale":{"domain":[0,61],"nice":false,"zero":false},"axis":{"orient":"right","values":[10,20,30,40,50,60],"domain":false,"tickColor":"#555","tickWidth":1.5,"tickSize":5}}},
"layer":[
{"mark":{"type":"circle","size":140,"color":"#1a1a1a","opacity":1,"clip":true}},
{"transform":[{"filter":"(datum.x >= 2.3 && datum.x <= 9.8) || datum.x >= 12.95"}],"mark":{"type":"circle","size":140,"color":"#4b3494","stroke":"#2b1d5a","strokeWidth":0.6,"opacity":1,"clip":true}},
{"mark":{"type":"line","color":"#111","strokeWidth":2,"clip":true}}
]},
{"title":{"text":"\"\u03322\u03320\u03321\u03326\u0332-\u03320\u03324\u0332-\u03322\u03328\u0332\"\u0332 Boltek EFM100, MAKET","font":"Liberation Serif","fontSize":23,"fontWeight":"bold","color":"#1e1e1e","anchor":"start","frame":"group","offset":1},
"width":564,"height":215,"data":{"name":"R2"},
"encoding":{
"x":{"field":"x","type":"quantitative","scale":{"domain":[0,13.72],"nice":false,"zero":false},"axis":{"orient":"bottom","values":[0,1,2,3,4,5,6,7,8,9,10,11,12,13],"domainColor":"#444","domainWidth":1.5,"tickColor":"#444","tickWidth":1.3,"tickSize":{"condition":{"test":"datum.value % 2 === 0","value":-9},"value":-5}}},
"y":{"field":"y","type":"quantitative","scale":{"domain":[0,60],"nice":false,"zero":false},"axis":{"orient":"right","values":[10,20,30,40,50,60],"domain":false,"tickColor":"#555","tickWidth":1.5,"tickSize":5}}},
"layer":[
{"mark":{"type":"circle","size":140,"color":"#1a1a1a","opacity":1,"clip":true}},
{"transform":[{"filter":"(datum.x >= 1.0 && datum.x <= 10.6) || datum.x >= 12.95"}],"mark":{"type":"circle","size":140,"color":"#4b3494","stroke":"#2b1d5a","strokeWidth":0.6,"opacity":1,"clip":true}},
{"mark":{"type":"line","color":"#111","strokeWidth":2,"clip":true}}
]},
{"title":{"text":"\"\u03322\u03320\u03321\u03326\u0332-\u03320\u03325\u0332-\u03320\u03324\u0332\"\u0332 Boltek EFM100, MAKET","font":"Liberation Serif","fontSize":23,"fontWeight":"bold","color":"#1e1e1e","anchor":"start","frame":"group","offset":1},
"width":564,"height":218,"data":{"name":"R3"},
"encoding":{
"x":{"field":"x","type":"quantitative","scale":{"domain":[0,13.72],"nice":false,"zero":false},"axis":{"orient":"bottom","values":[0,1,2,3,4,5,6,7,8,9,10,11,12,13],"domainColor":"#444","domainWidth":1.5,"tickColor":"#444","tickWidth":1.3,"tickSize":{"condition":{"test":"datum.value % 2 === 0","value":-9},"value":-5}}},
"y":{"field":"y","type":"quantitative","scale":{"domain":[0,100],"nice":false,"zero":false},"axis":{"orient":"right","values":[10,20,30,40,50,60,70,80,90,100],"domain":false,"tickColor":"#555","tickWidth":1.5,"tickSize":5}}},
"layer":[
{"mark":{"type":"circle","size":140,"color":"#1a1a1a","opacity":1,"clip":true}},
{"transform":[{"filter":"(datum.x >= 4.2 && datum.x <= 9.3) || datum.x >= 12.95"}],"mark":{"type":"circle","size":140,"color":"#4b3494","stroke":"#2b1d5a","strokeWidth":0.6,"opacity":1,"clip":true}},
{"mark":{"type":"line","color":"#111","strokeWidth":2,"clip":true}}
]}
]}
]
}
